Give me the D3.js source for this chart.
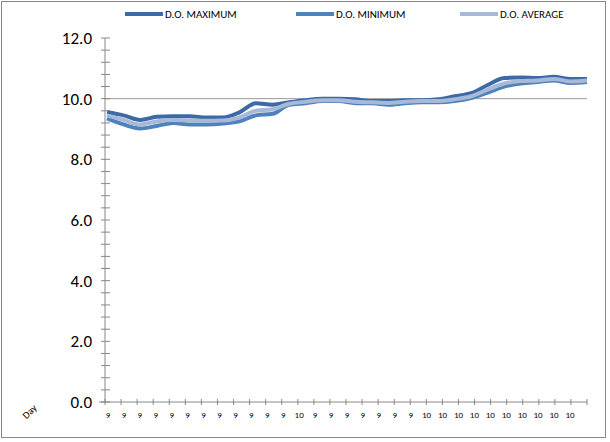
<!DOCTYPE html>
<html><head><meta charset="utf-8">
<script src="https://cdn.jsdelivr.net/npm/d3@7"></script>
<style>body{margin:0;background:#fff;font-family:Calibri,Carlito,"Liberation Sans",Arial,sans-serif}</style>
</head><body><div id="chart"></div>
<script>
const days = ['9','9','9','9','9','9','9','9','9','9','9','9','10','9','9','9','9','9','9','9','10','10','10','10','10','10','10','10','10','10'];
const doMax = [9.55,9.45,9.3,9.4,9.42,9.42,9.38,9.38,9.55,9.85,9.8,9.88,9.95,10.0,10.0,9.98,9.92,9.92,9.95,9.95,9.98,10.08,10.18,10.45,10.68,10.7,10.68,10.72,10.65,10.65];
const doMin = [9.35,9.15,9.02,9.1,9.2,9.15,9.15,9.18,9.25,9.45,9.5,9.8,9.85,9.92,9.92,9.85,9.85,9.8,9.85,9.88,9.88,9.92,10.02,10.2,10.4,10.5,10.55,10.6,10.52,10.55];
const doAvg = [9.45,9.3,9.15,9.25,9.3,9.28,9.27,9.28,9.38,9.6,9.65,9.83,9.9,9.95,9.95,9.9,9.88,9.86,9.9,9.92,9.92,9.98,10.08,10.3,10.5,10.58,10.6,10.65,10.57,10.6];
const seriesNames = ['D.O. MAXIMUM','D.O. MINIMUM','D.O. AVERAGE'];
const colours = ['#3d6aa5','#4f81bd','#a7b9d9'];
const yTickValues = [0,2,4,6,8,10,12];

const width = 610, height = 442;
const margin = {top: 38, right: 23, bottom: 40, left: 105};

const svg = d3.select('#chart').append('svg')
	.attr('width', width).attr('height', height);

svg.append('rect').attr('x', 1.5).attr('y', 1.5)
	.attr('width', 604).attr('height', 436)
	.attr('fill', 'none').attr('stroke', '#888');

const x = d3.scalePoint().domain(d3.range(days.length))
	.range([margin.left + 3, width - margin.right - 17]);
const xLine = d3.scalePoint().domain(d3.range(days.length))
	.range([margin.left + 2, width - margin.right]);
const y = d3.scaleLinear().domain([0, 12])
	.range([height - margin.bottom, margin.top]);

// reference line at 10
svg.append('line')
	.attr('x1', margin.left).attr('x2', width - margin.right)
	.attr('y1', y(10)).attr('y2', y(10))
	.attr('stroke', '#999').attr('stroke-width', 1);

// y axis with minor ticks crossing the axis
const yg = svg.append('g');
yg.append('line').attr('x1', margin.left).attr('x2', margin.left)
	.attr('y1', y(0)).attr('y2', y(12)).attr('stroke', '#888');
d3.range(0, 12.01, 0.4).forEach(v => {
	yg.append('line').attr('x1', margin.left - 4).attr('x2', margin.left + 5)
		.attr('y1', y(v)).attr('y2', y(v)).attr('stroke', '#888');
});
yTickValues.forEach(v => {
	yg.append('text').attr('x', margin.left - 13).attr('y', y(v)).attr('dy', '0.35em')
		.attr('text-anchor', 'end').attr('font-size', 17).attr('fill', '#000')
		.text(v.toFixed(1));
});

// x axis
const xg = svg.append('g').attr('transform', `translate(0,${y(0)})`);
xg.append('line').attr('x1', margin.left - 6).attr('x2', width - margin.right)
	.attr('stroke', '#888');
const step = (width - margin.right - margin.left) / days.length;
d3.range(days.length + 1).forEach(i => {
	const xp = margin.left + i * step;
	xg.append('line').attr('x1', xp).attr('x2', xp).attr('y1', -3).attr('y2', 3).attr('stroke', '#888');
});
days.forEach((d, i) => {
	xg.append('text').attr('x', x(i)).attr('y', 16)
		.attr('text-anchor', 'middle').attr('font-size', 9).text(d);
});
svg.append('text').attr('transform', `translate(32,414) rotate(-45)`)
	.attr('font-size', 10).attr('text-anchor', 'middle').text('Day');

// lines
const line = d3.line().x((d, i) => xLine(i)).y(d => y(d)).curve(d3.curveMonotoneX);
[doMax, doMin, doAvg].forEach((s, i) => {
	svg.append('path').datum(s).attr('fill', 'none')
		.attr('stroke', colours[i]).attr('stroke-width', 4)
		.attr('stroke-linejoin', 'round').attr('d', line);
});

// legend
const legendX = [125, 296, 460];
seriesNames.forEach((n, i) => {
	const g = svg.append('g').attr('transform', `translate(${legendX[i]},14)`);
	g.append('line').attr('x1', 0).attr('x2', 38).attr('stroke', colours[i]).attr('stroke-width', 4);
	g.append('text').attr('x', 40).attr('dy', '0.35em').attr('font-size', 11).text(n);
});
</script></body></html>
